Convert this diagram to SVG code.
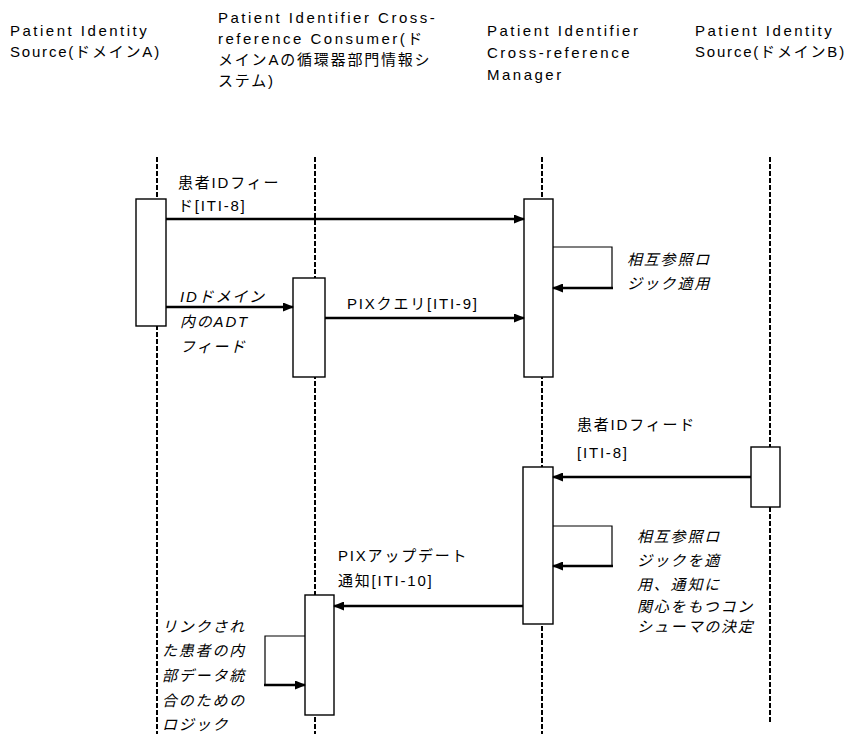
<svg xmlns="http://www.w3.org/2000/svg" width="858" height="734" viewBox="0 0 858 734">
<defs>
<marker id="ah" markerUnits="userSpaceOnUse" markerWidth="11" markerHeight="9" refX="10" refY="4.5" orient="auto">
<path d="M0,0 L11,4.5 L0,9 Z" fill="#000"/>
</marker>
<style>
text{font-family:"Liberation Sans","Noto Sans CJK JP",sans-serif;font-size:15px;letter-spacing:1.8px;fill:#000}
.lat{letter-spacing:2.5px}
.it{font-style:italic}
.life{stroke:#000;stroke-width:2;stroke-dasharray:5,2;fill:none;shape-rendering:crispEdges}
.box{fill:#fff;stroke:#000;stroke-width:1.4}
.msg{stroke:#000;stroke-width:2.4;fill:none;marker-end:url(#ah)}
.thin{stroke:#000;stroke-width:1.2;fill:none}
</style>
</defs>
<rect width="858" height="734" fill="#fff"/>
<g id="headers">
<text class="lat" x="10" y="36">Patient Identity</text>
<text x="10" y="57">Source(ドメインA)</text>
<text class="lat" x="218" y="23">Patient Identifier Cross-</text>
<text class="lat" x="218" y="44">reference Consumer(ド</text>
<text x="218" y="65">メインAの循環器部門情報シ</text>
<text x="218" y="86">ステム)</text>
<text class="lat" x="487" y="36">Patient Identifier</text>
<text class="lat" x="487" y="58">Cross-reference</text>
<text class="lat" x="487" y="80">Manager</text>
<text class="lat" x="695" y="36">Patient Identity</text>
<text x="695" y="57">Source(ドメインB)</text>
</g>
<g id="lifelines">
<line class="life" x1="157" y1="157" x2="157" y2="734"/>
<line class="life" x1="315" y1="157" x2="315" y2="734"/>
<line class="life" x1="542" y1="157" x2="542" y2="734"/>
<line class="life" x1="770" y1="157" x2="770" y2="723"/>
</g>
<g id="node-sourceA"><rect class="box" x="136" y="199" width="30" height="127"/></g>
<g id="node-consumer1"><rect class="box" x="293" y="278" width="32" height="99"/></g>
<g id="node-manager1"><rect class="box" x="524" y="199" width="29" height="178"/></g>
<g id="node-sourceB"><rect class="box" x="751" y="447" width="29" height="60"/></g>
<g id="node-manager2"><rect class="box" x="523" y="467" width="30" height="157"/></g>
<g id="node-consumer2"><rect class="box" x="305" y="595" width="29" height="120"/></g>
<g id="connectors">
<line class="msg" x1="166" y1="219" x2="524" y2="219"/>
<line class="msg" x1="166" y1="307" x2="293" y2="307"/>
<line class="msg" x1="325" y1="318" x2="524" y2="318"/>
<polyline class="thin" points="553,247 612,247 612,288"/>
<line class="msg" x1="613" y1="288" x2="553" y2="288"/>
<line class="msg" x1="751" y1="477" x2="553" y2="477"/>
<polyline class="thin" points="553,526 612,526 612,566"/>
<line class="msg" x1="613" y1="566" x2="553" y2="566"/>
<line class="msg" x1="523" y1="606" x2="334" y2="606"/>
<polyline class="thin" points="305,636 265,636 265,685"/>
<line class="msg" x1="264" y1="685" x2="305" y2="685"/>
</g>
<g id="labels">
<text x="178" y="188">患者IDフィー</text>
<text x="178" y="211">ド[ITI-8]</text>
<text class="it" x="180" y="302">IDドメイン</text>
<text class="it" x="180" y="327">内のADT</text>
<text class="it" x="180" y="352">フィード</text>
<text x="347" y="309">PIXクエリ[ITI-9]</text>
<text class="it" x="627" y="265">相互参照ロ</text>
<text class="it" x="627" y="289">ジック適用</text>
<text x="577" y="430">患者IDフィード</text>
<text x="577" y="458">[ITI-8]</text>
<text class="it" x="637" y="542">相互参照ロ</text>
<text class="it" x="637" y="566">ジックを適</text>
<text class="it" x="637" y="590">用、通知に</text>
<text class="it" x="637" y="612">関心をもつコン</text>
<text class="it" x="637" y="632">シューマの決定</text>
<text x="338" y="561">PIXアップデート</text>
<text x="338" y="586">通知[ITI-10]</text>
<text class="it" x="162" y="632">リンクされ</text>
<text class="it" x="162" y="656">た患者の内</text>
<text class="it" x="162" y="681">部データ統</text>
<text class="it" x="162" y="706">合のための</text>
<text class="it" x="162" y="730">ロジック</text>
</g>
</svg>
